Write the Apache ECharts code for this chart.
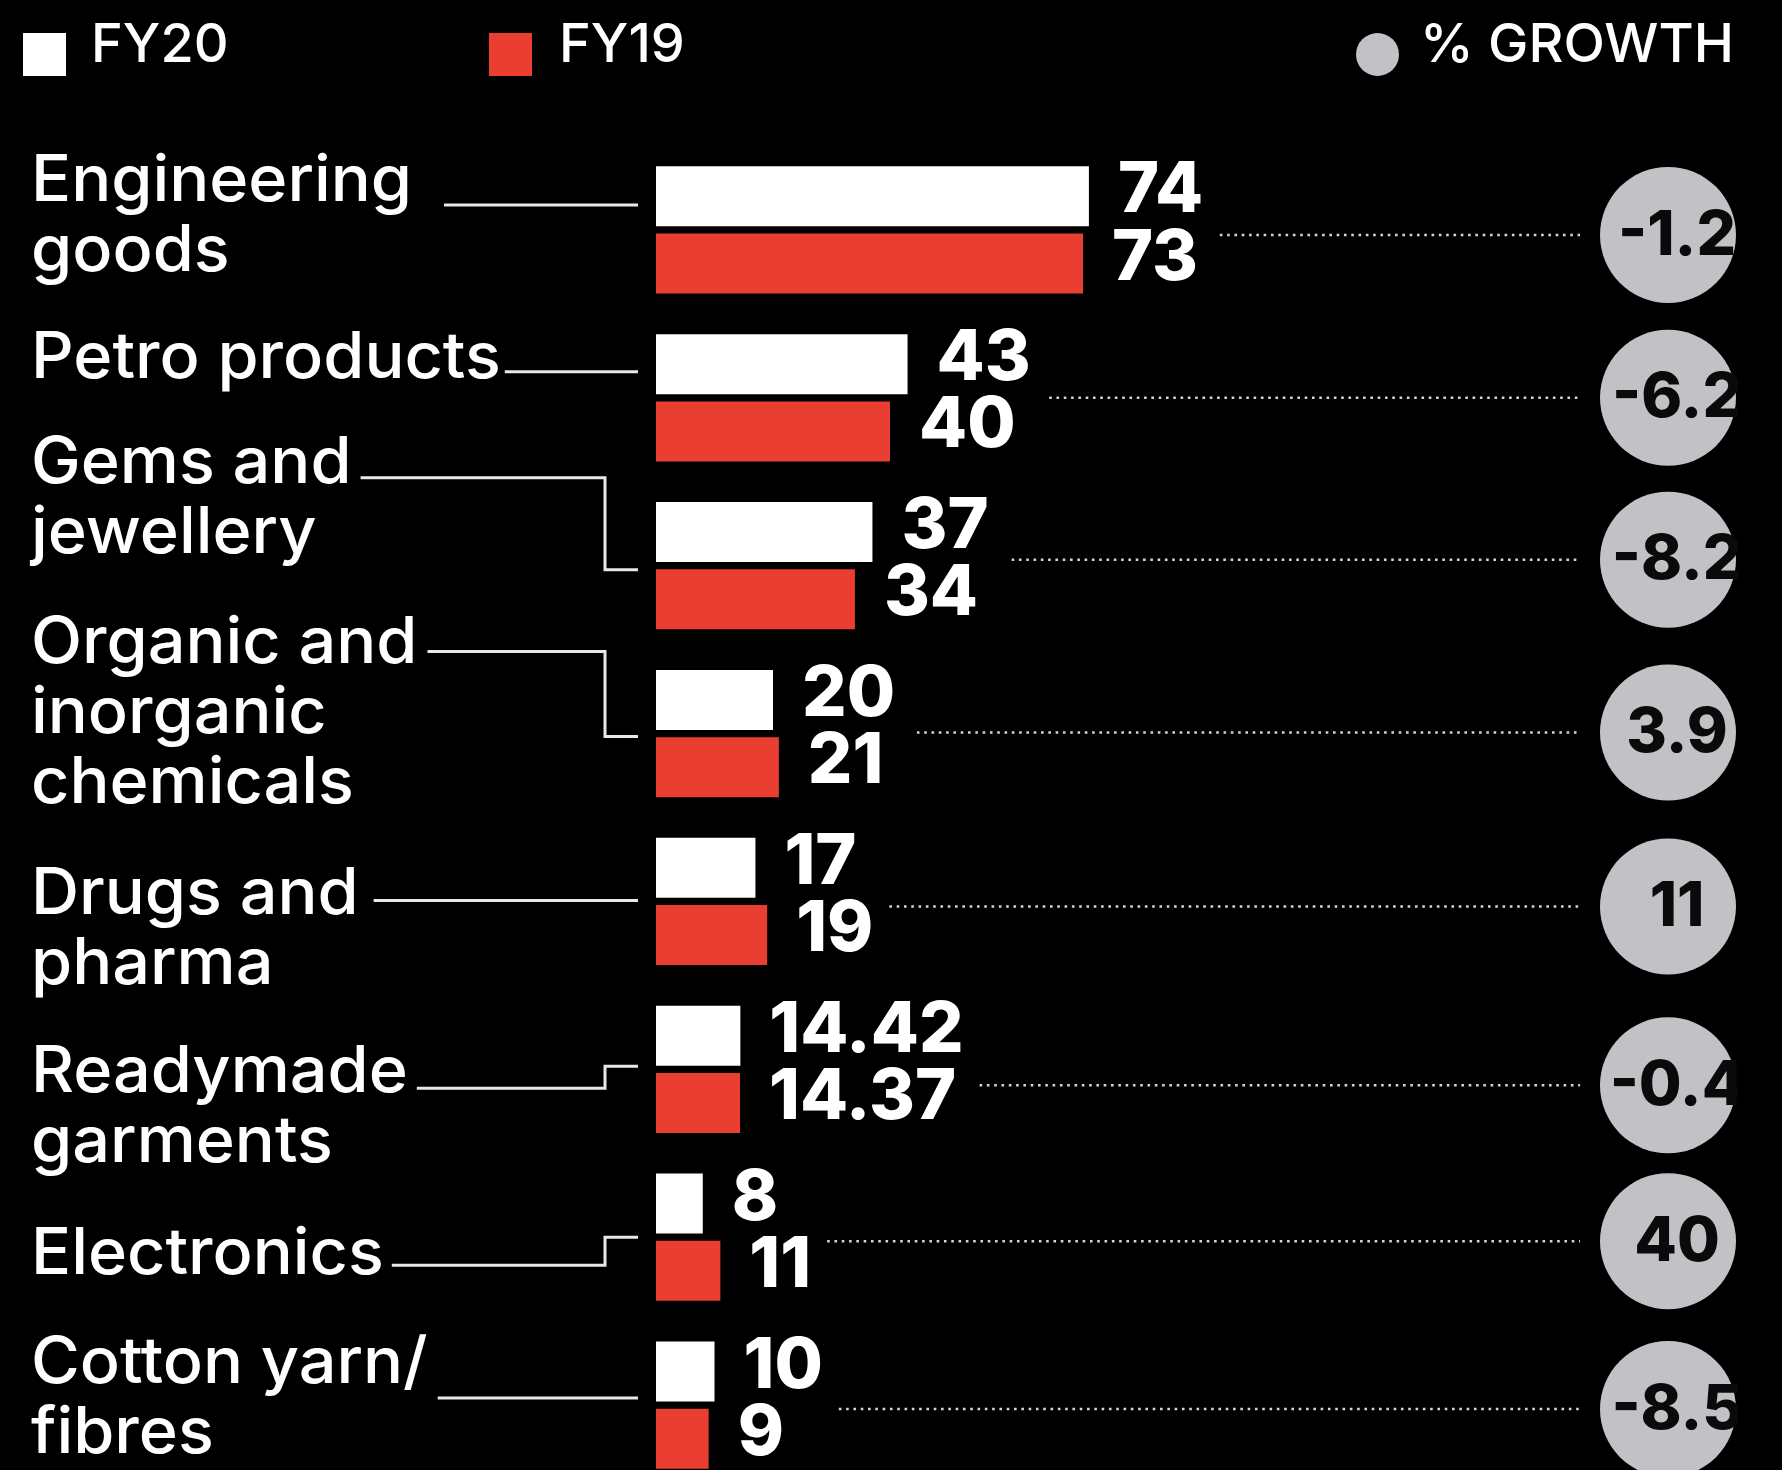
<!DOCTYPE html>
<html>
<head>
<meta charset="utf-8">
<title>Exports FY20 vs FY19</title>
<script src="https://cdn.jsdelivr.net/npm/echarts@6/dist/echarts.min.js"></script>
<style>
  html, body { margin: 0; padding: 0; background: #000; }
  #chart { width: 1782px; height: 1470px; }
</style>
</head>
<body>
<div id="chart"></div>
<script>
// data (US$ bn and % growth)
const categories = ['Engineering goods', 'Petro products', 'Gems and jewellery', 'Organic and inorganic chemicals',
  'Drugs and pharma', 'Readymade garments', 'Electronics', 'Cotton yarn/ fibres']
const labelLines = ['Engineering\ngoods', 'Petro products', 'Gems and\njewellery', 'Organic and\ninorganic\nchemicals',
  'Drugs and\npharma', 'Readymade\ngarments', 'Electronics', 'Cotton yarn/\nfibres']
const fy20 = [74, 43, 37, 20, 17, 14.42, 8, 10]
const fy19 = [73, 40, 34, 21, 19, 14.37, 11, 9]
const growth = [-1.2, -6.2, -8.2, 3.9, 11, -0.4, 40, -8.5]

// layout tweaks, relative to each category's band centre
const labelShift = [-48, -39, -102, -90, -7, 3, 18, -41]
const connFrom = [-25, -26, -88, -82, -1, 19, 28, -7]
const connTo = [-25, -26, 4, 3, -1, -3, 0, -7]
const connGap = [32, 4, 9, 10, 15, 9, 8, 10]
const circleShift = [5, 0, -6, -1, 5, 16, 4, 4]

const RED = '#ea3e30'
const GREY = '#c2c2c6'
const LABEL_X = 31
const LINE_H = 70
const LABEL_STRETCH = 1.04
const labelFont = '500 64px Inter'
const valueFont = '800 70px Inter'
const VALUE_DIST = 29

const measureCtx = document.createElement('canvas').getContext('2d')
function textWidth(text, font) {
  measureCtx.font = font
  return measureCtx.measureText(text).width
}

const chart = echarts.init(document.getElementById('chart'))

const valueLabel = {
  show: true,
  position: 'right',
  distance: VALUE_DIST,
  offset: [0, -5],
  color: '#fff',
  fontFamily: 'Inter',
  fontSize: 70,
  fontWeight: 800,
  formatter: (p) => String(p.value)
}

// legend: icons and names are placed separately, the names sit higher than the swatches
function legendIcon(name, left, icon) {
  return {
    data: [name], left, top: 28, icon, itemWidth: 43, itemHeight: 43,
    formatter: () => '', textStyle: { fontSize: 1 }
  }
}
function legendName(name, left) {
  return {
    data: [name], left, top: 14, itemWidth: 1, itemHeight: 1,
    itemStyle: { opacity: 0 },
    textStyle: { color: '#fff', fontFamily: 'Inter', fontSize: 54, fontWeight: 500 }
  }
}

const option = {
  backgroundColor: '#000',
  animation: false,
  legend: [
    legendIcon('FY20', 18, 'rect'),
    legendIcon('FY19', 484, 'rect'),
    legendIcon('% GROWTH', 1351, 'circle'),
    legendName('FY20', 80),
    legendName('FY19', 548),
    legendName('% GROWTH', 1409)
  ],
  grid: { left: 656, top: 146, width: 585, height: 1343, outerBoundsMode: 'none' },
  xAxis: { type: 'value', min: 0, max: 100, show: false },
  yAxis: { type: 'category', data: categories, inverse: true, show: false },
  series: [
    {
      name: 'FY20',
      type: 'bar',
      data: fy20,
      barWidth: 60,
      barGap: '12%',
      itemStyle: { color: '#fff' },
      label: valueLabel
    },
    {
      name: 'FY19',
      type: 'bar',
      data: fy19,
      barWidth: 60,
      barGap: '12%',
      itemStyle: { color: RED },
      label: valueLabel
    },
    {
      name: 'categories',
      type: 'custom',
      data: categories.map((c, i) => [0, i]),
      encode: { x: 0, y: 1 },
      silent: true,
      renderItem: (params, api) => {
        const i = params.dataIndex
        const base = api.coord([0, i])
        const yc = base[1]
        const first = labelLines[i].split('\n')[0]
        const sx = LABEL_X + textWidth(first, labelFont) * LABEL_STRETCH + connGap[i]
        const ex = base[0] - 18
        const elbowX = base[0] - 51
        const y1 = yc + connFrom[i]
        const y2 = yc + connTo[i]
        const points = y1 === y2
          ? [[sx, y1], [ex, y1]]
          : [[sx, y1], [elbowX, y1], [elbowX, y2], [ex, y2]]
        return {
          type: 'group',
          children: [
            {
              type: 'text',
              x: LABEL_X,
              scaleX: LABEL_STRETCH,
              style: {
                text: labelLines[i],
                x: 0,
                y: yc + labelShift[i] - LINE_H / 2,
                fill: '#fff',
                font: labelFont,
                lineHeight: LINE_H,
                align: 'left',
                verticalAlign: 'top'
              }
            },
            {
              type: 'polyline',
              shape: { points },
              style: { stroke: '#e8e8e8', lineWidth: 3, fill: null }
            }
          ]
        }
      }
    },
    {
      name: '% GROWTH',
      type: 'custom',
      data: growth.map((g, i) => [0, i, g]),
      encode: { x: 0, y: 1 },
      itemStyle: { color: GREY },
      silent: true,
      renderItem: (params, api) => {
        const i = params.dataIndex
        const yc = api.coord([0, i])[1] + circleShift[i]
        const r = 68
        const cx = api.getWidth() - 114
        const top = Math.max(fy20[i], fy19[i])
        const lw = Math.max(textWidth(String(fy20[i]), valueFont), textWidth(String(fy19[i]), valueFont))
        const dx0 = api.coord([top, i])[0] + VALUE_DIST + lw + 16
        return {
          type: 'group',
          children: [
            {
              type: 'line',
              shape: { x1: dx0, y1: yc, x2: cx - r - 20, y2: yc },
              style: { stroke: '#d6d6d6', lineWidth: 2.6, lineDash: [2.6, 4.7] }
            },
            {
              type: 'circle',
              shape: { cx, cy: yc, r },
              style: { fill: GREY }
            },
            {
              type: 'text',
              style: {
                text: String(api.value(2)),
                x: cx + 9,
                y: yc + 1,
                fill: '#0a0a0a',
                fontFamily: 'Inter',
                fontSize: 62,
                fontWeight: 800,
                align: 'center',
                verticalAlign: 'middle'
              }
            }
          ]
        }
      }
    }
  ],
  // the source picture is cropped just past the circles
  graphic: [
    { type: 'rect', right: 0, top: 120, z: 100, shape: { width: 44, height: 1350 }, style: { fill: '#000' } }
  ]
}

chart.setOption(option)
window.addEventListener('resize', () => chart.resize())
</script>
</body>
</html>
